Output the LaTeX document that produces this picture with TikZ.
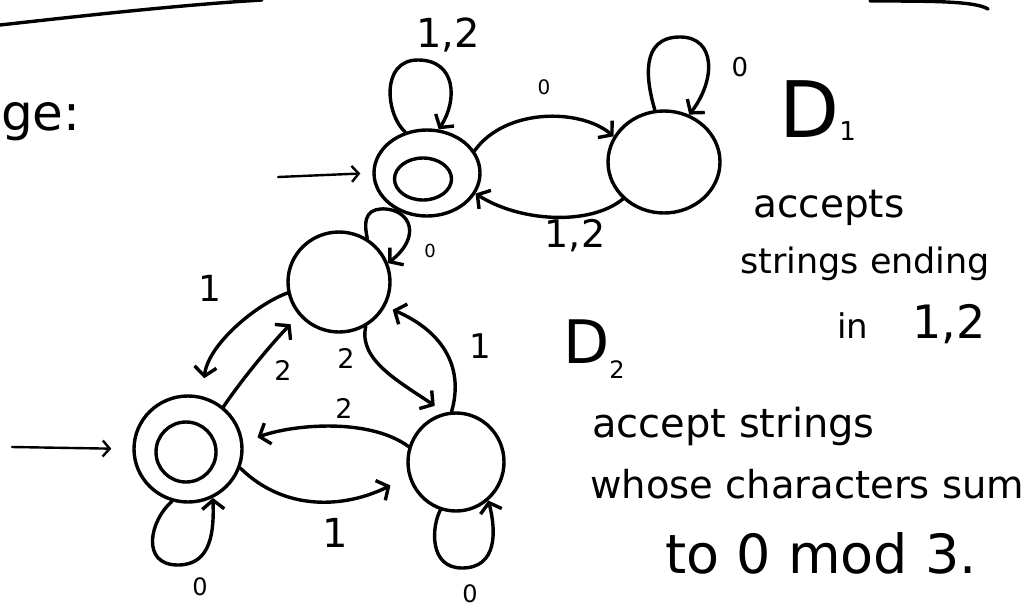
\documentclass[tikz,border=0pt]{standalone}
\usepackage{fontspec}
\setmainfont{DejaVu Sans}
\usetikzlibrary{arrows.meta,shapes.geometric}
\newcommand\myfs[1]{\fontsize{#1}{#1}\selectfont}
\begin{document}
\begin{tikzpicture}[x=1pt,y=1pt,
  stnode/.style={draw, ellipse, line width=3.4pt, inner sep=0pt},
  ed/.style={line width=3.4pt, -{Straight Barb[length=9pt,width=22pt]}, line cap=round, line join=round},
  startarr/.style={line width=2.4pt, -{Straight Barb[length=7pt,width=16pt]}, line cap=round},
  lab/.style={inner sep=0pt},
  txt/.style={inner sep=0pt, anchor=base west},
  rule/.style={line width=3.4pt, line cap=round}]
\useasboundingbox (0,-608) rectangle (1032,0);

% top rules
\draw[rule] (0,-25) .. controls (90,-15) and (180,-5) .. (262,0);
\draw[rule] (870,-1) .. controls (930,-1) and (975,-1) .. (988,-9);

% states
\node[stnode, minimum width=106pt, minimum height=86pt] (A) at (427,-173) {};
\node[stnode, minimum width=57pt, minimum height=42pt] (Ain) at (423,-179) {};
\node[stnode, minimum width=112pt, minimum height=102pt] (B) at (664,-162) {};
\node[stnode, minimum width=102pt, minimum height=100pt] (C) at (339,-282) {};
\node[stnode, minimum width=108pt, minimum height=106pt] (D) at (188,-449) {};
\node[stnode, minimum width=60pt, minimum height=60pt] (Din) at (186,-452) {};
\node[stnode, minimum width=96pt, minimum height=98pt] (E) at (456,-462) {};

% start arrows
\coordinate (sA) at (278,-177);
\coordinate (sD) at (12,-447);
\draw[startarr, shorten >=12pt] (sA) -- (A.west);
\draw[startarr, shorten >=21pt] (sD) -- (D.west);

% D1 edges
\draw[ed] (A.118) .. controls (386,-115) and (380,-60) .. (418,-60)
                  .. controls (456,-60) and (458,-100) .. (A.75);
\draw[ed] (A.25) .. controls (505,-108) and (580,-108) .. (B.153);
\draw[ed] (B.100) .. controls (646,-80) and (640,-37) .. (680,-37)
                  .. controls (716,-37) and (716,-80) .. (B.62);
\draw[ed] (B.222) .. controls (590,-226) and (520,-222) .. (A.-23);

% D2 edges
\draw[ed] (C.57) .. controls (362,-215) and (370,-208) .. (386,-209)
                 .. controls (410,-211) and (422,-236) .. (C.21);
\draw[ed, shorten >=18pt] (C.192) .. controls (255,-305) and (208,-345) .. (D.75);
\draw[ed, shorten >=12pt] (D.50) .. controls (245,-375) and (275,-340) .. (C.220);
\draw[ed, shorten >=12pt] (C.-59) .. controls (358,-360) and (400,-382) .. (E.103);
\draw[ed, shorten >=8pt] (E.95) .. controls (465,-365) and (440,-330) .. (C.-28);
\draw[ed, shorten >=15pt] (E.162) .. controls (370,-418) and (295,-424) .. (D.7);
\draw[ed, shorten >=20pt] (D.-20) .. controls (285,-512) and (345,-508) .. (E.197);
\draw[ed] (D.-107) .. controls (150,-520) and (140,-565) .. (178,-565)
                   .. controls (212,-565) and (214,-530) .. (D.-63);
\draw[ed] (E.-108) .. controls (432,-525) and (428,-568) .. (462,-568)
                   .. controls (498,-568) and (496,-530) .. (E.-50);

% edge labels
\node[lab, font=\myfs{40}] (l1) at (448,-35) {1,2};
\node[lab, font=\myfs{20}] (l2) at (544,-87) {0};
\node[lab, font=\myfs{26}] (l3) at (740,-67) {0};
\node[lab, font=\myfs{38}] (l4) at (575,-236) {1,2};
\node[lab, font=\myfs{18}] (l5) at (430,-251) {0};
\node[lab, font=\myfs{36}] (l6) at (210,-288) {1};
\node[lab, font=\myfs{27}] (l7) at (283,-370) {2};
\node[lab, font=\myfs{27}] (l8) at (346,-358) {2};
\node[lab, font=\myfs{34}] (l9) at (480,-346) {1};
\node[lab, font=\myfs{27}] (l10) at (344,-408) {2};
\node[lab, font=\myfs{40}] (l11) at (335,-533) {1};
\node[lab, font=\myfs{24}] (l12) at (200,-587) {0};
\node[lab, font=\myfs{24}] (l13) at (470,-594) {0};

% texts
\node[txt, font=\myfs{50}] (t0) at (1,-130) {ge:};
\node[txt, font=\myfs{78}] (d1) at (779,-137) {D\raisebox{-3pt}{\myfs{26}1}};
\node[txt, font=\myfs{39}] (t1) at (753,-217) {accepts};
\node[txt, font=\myfs{35}] (t2) at (740,-273) {strings ending};
\node[txt, font=\myfs{34}] (t3) at (837,-338) {in\hspace{44pt}\myfs{46}1,2};
\node[txt, font=\myfs{60}] (d2) at (563,-363) {D\raisebox{-15pt}{\myfs{24}2}};
\node[txt, font=\myfs{40}] (t4) at (592,-437) {accept strings};
\node[txt, font=\myfs{38.5}] (t5) at (590,-498) {whose characters sum};
\node[txt, font=\myfs{54}] (t6) at (665,-573) {to 0 mod 3.};
\end{tikzpicture}
\end{document}
